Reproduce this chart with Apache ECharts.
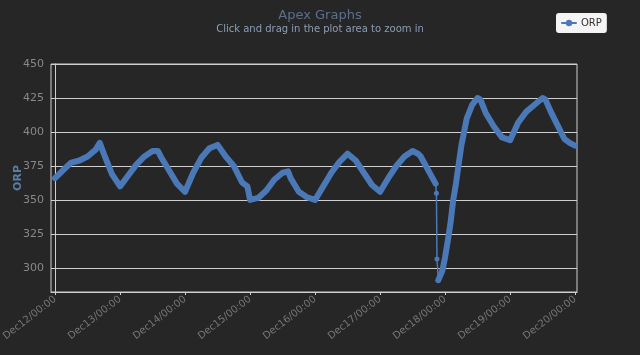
<!DOCTYPE html>
<html>
<head>
	<meta charset="UTF-8">
	<title>Apex Graphs</title>
	<script src="https://cdn.jsdelivr.net/npm/echarts@6/dist/echarts.min.js"></script>
	<style>
		html, body { margin: 0; padding: 0; background: #262626; }
		#chart { width: 640px; height: 355px; }
	</style>
</head>
<body>
	<div id="chart"></div>
	<script type="text/javascript">
		// hours since Dec12 00:00
		var mainHours = [0, 3, 6, 9, 12, 15, 16.5, 18, 21, 24, 27, 30, 33, 36, 38, 39, 42, 45, 48,
			51, 54, 57, 60, 63, 66, 69, 71, 72, 75, 78, 81, 84, 86, 87, 90, 93, 96,
			99, 102, 105, 108, 111, 114, 117, 120, 123, 126, 129, 132, 134, 135, 138, 140.5,
			141, 141.5, 142, 143, 144, 145, 146, 147, 148, 150, 152, 154, 156, 157,
			159, 162, 165, 168, 171, 174, 177, 180, 181, 183, 186, 188, 190, 192];
		var mainOrp = [366, 372, 377.5, 379, 382, 387, 392, 384, 369, 360, 368, 376, 382, 386, 386, 382, 372, 362, 356,
			370, 381, 388, 390.5, 382, 375, 363, 360, 350, 351.5, 357, 365, 370, 371, 366, 356, 352, 350,
			360, 370, 378, 384, 379, 370, 361, 356, 366, 375, 382, 386, 384, 382, 371, 362,
			null, 291, 292, 298, 308, 320, 333, 350, 362, 390, 410, 420, 425, 424,
			414, 404, 396, 394, 407, 415, 420, 425, 424, 415, 403, 395, 392, 390];
		// sparse readings at the sharp drop on Dec17
		var dropHours = [140.5, 140.8, 141.0, 141.5];
		var dropOrp = [362, 355, 306.5, 291];

		var dayTicks = [0, 24, 48, 72, 96, 120, 144, 168, 192];
		var dayLabels = ['Dec12/00:00', 'Dec13/00:00', 'Dec14/00:00', 'Dec15/00:00', 'Dec16/00:00',
			'Dec17/00:00', 'Dec18/00:00', 'Dec19/00:00', 'Dec20/00:00'];
		var yTicks = [300, 325, 350, 375, 400, 425, 450];

		function pairs(xs, ys) {
			var out = [];
			for (var i = 0; i < xs.length; i++) out.push([xs[i], ys[i]]);
			return out;
		}

		var lineColor = '#4b79b7';
		var chart = echarts.init(document.getElementById('chart'));

		var option = {
			backgroundColor: '#262626',
			animation: false,
			title: {
				text: 'Apex Graphs',
				subtext: 'Click and drag in the plot area to zoom in',
				left: 'center',
				top: 4,
				itemGap: 2,
				textStyle: { color: '#5d6f8c', fontSize: 13, fontWeight: 'normal', fontFamily: 'DejaVu Sans' },
				subtextStyle: { color: '#8d9db5', fontSize: 10, fontFamily: 'DejaVu Sans' }
			},
			legend: {
				data: ['ORP'],
				left: 556,
				top: 13,
				padding: [5, 5],
				backgroundColor: '#f4f4f4',
				borderRadius: 3,
				itemWidth: 14,
				itemHeight: 8,
				itemGap: 4,
				textStyle: { color: '#333', fontSize: 10, fontFamily: 'DejaVu Sans' }
			},
			grid: {
				left: 51,
				right: 63,
				top: 64,
				bottom: 63,
				outerBoundsMode: 'none',
				containLabel: false,
				show: true,
				borderColor: '#cfcfcf',
				borderWidth: 1
			},
			xAxis: {
				type: 'value',
				min: -1.5,
				max: 192.7,
				axisLine: { show: true, lineStyle: { color: '#cfcfcf' } },
				axisTick: { show: true, customValues: dayTicks, length: 3, lineStyle: { color: '#cfcfcf' } },
				splitLine: { show: false },
				axisLabel: {
					customValues: dayTicks,
					rotate: 38,
					margin: 6,
					color: '#777',
					fontSize: 10,
					fontFamily: 'DejaVu Sans',
					formatter: function (v) {
						var i = dayTicks.indexOf(v);
						return i >= 0 ? dayLabels[i] : '';
					}
				}
			},
			yAxis: {
				type: 'value',
				min: 282.3,
				max: 450,
				name: 'ORP',
				nameLocation: 'middle',
				nameGap: 27,
				nameMoveOverlap: false,
				nameTextStyle: { color: '#5b7ea8', fontSize: 11, fontWeight: 'bold', fontFamily: 'DejaVu Sans' },
				axisLine: { show: true, lineStyle: { color: '#cfcfcf' } },
				axisTick: { show: false, customValues: yTicks },
				axisLabel: {
					customValues: yTicks,
					color: '#888',
					fontSize: 11,
					margin: 7,
					fontFamily: 'DejaVu Sans'
				},
				splitLine: { show: true, lineStyle: { color: '#cfcfcf', width: 1 } }
			},
			series: [
				{
					name: 'ORP',
					type: 'line',
					data: pairs(mainHours, mainOrp),
					color: lineColor,
					showSymbol: false,
					symbol: 'circle',
					connectNulls: false,
					lineStyle: { width: 6, color: lineColor, cap: 'round', join: 'round' },
					z: 3
				},
				{
					name: 'ORP',
					type: 'line',
					data: pairs(dropHours, dropOrp),
					color: lineColor,
					symbol: 'circle',
					symbolSize: 5,
					lineStyle: { width: 1.5, color: lineColor },
					itemStyle: { color: lineColor },
					z: 2
				}
			]
		};

		chart.setOption(option);
	</script>
</body>
</html>
